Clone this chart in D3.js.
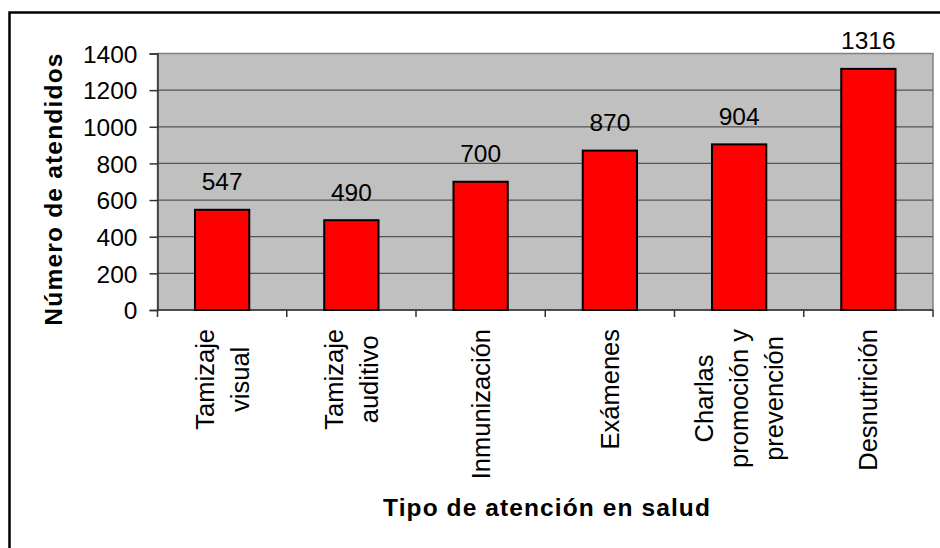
<!DOCTYPE html>
<html>
<head>
<meta charset="utf-8">
<script src="https://cdn.jsdelivr.net/npm/d3@7"></script>
<style>
  html, body { margin: 0; padding: 0; background: #fff; }
  svg { display: block; font-family: Arial, "Liberation Sans", sans-serif; }
</style>
</head>
<body>
<svg id="chart" width="940" height="548"></svg>
<script>
const categories = [
  ["Tamizaje", "visual"],
  ["Tamizaje", "auditivo"],
  ["Inmunización"],
  ["Exámenes"],
  ["Charlas", "promoción y", "prevención"],
  ["Desnutrición"]
];
const values = [547, 490, 700, 870, 904, 1316];
const yTicks = [0, 200, 400, 600, 800, 1000, 1200, 1400];
const yTitle = "Número de atendidos";
const xTitle = "Tipo de atención en salud";

const svg = d3.select("#chart");
const plot = { left: 157.5, right: 933, top: 53.5, bottom: 310 };

// outer frame (extends past right/bottom edges)
svg.append("rect")
  .attr("x", 9.5).attr("y", 12.5)
  .attr("width", 1000).attr("height", 600)
  .attr("fill", "#fff").attr("stroke", "#000").attr("stroke-width", 2.5);

const x = d3.scaleBand()
  .domain(d3.range(categories.length))
  .range([plot.left, plot.right])
  .paddingInner(0.58).paddingOuter(0.29);
const xb = d3.scaleBand()
  .domain(d3.range(categories.length))
  .range([plot.left, plot.right]);
const y = d3.scaleLinear().domain([0, 1400]).range([plot.bottom, plot.top]);

// plot background
svg.append("rect")
  .attr("x", plot.left).attr("y", plot.top)
  .attr("width", plot.right - plot.left).attr("height", plot.bottom - plot.top)
  .attr("fill", "#c0c0c0").attr("stroke", "#808080").attr("stroke-width", 1.5);

// gridlines
svg.append("g").selectAll("line")
  .data(yTicks.filter(d => d > 0 && d < 1400))
  .join("line")
  .attr("x1", plot.left).attr("x2", plot.right)
  .attr("y1", d => y(d)).attr("y2", d => y(d))
  .attr("stroke", "#555").attr("stroke-width", 1.3);

// y axis
const yAxis = d3.axisLeft(y).tickValues(yTicks).tickSize(8).tickPadding(12).tickFormat(d3.format("d"));
const gy = svg.append("g").attr("transform", `translate(${plot.left},0)`).call(yAxis);
gy.select(".domain").attr("stroke", "#333").attr("stroke-width", 1.5);
gy.selectAll(".tick line").attr("stroke", "#333").attr("stroke-width", 1.5);
gy.selectAll(".tick text")
  .attr("font-size", 24.5).attr("fill", "#000")
  .attr("font-family", "Arial, 'Liberation Sans', sans-serif")
  .attr("dy", "0.36em");

// x axis line + ticks at band boundaries
svg.append("line")
  .attr("x1", plot.left).attr("x2", plot.right)
  .attr("y1", plot.bottom).attr("y2", plot.bottom)
  .attr("stroke", "#333").attr("stroke-width", 1.5);
const bounds = d3.range(categories.length + 1).map(i => i < categories.length ? xb(i) : plot.right);
svg.append("g").selectAll("line").data(bounds).join("line")
  .attr("x1", d => d).attr("x2", d => d)
  .attr("y1", plot.bottom).attr("y2", plot.bottom + 7)
  .attr("stroke", "#333").attr("stroke-width", 1.5);

// bars
svg.append("g").selectAll("rect")
  .data(values).join("rect")
  .attr("x", (d, i) => x(i))
  .attr("width", x.bandwidth())
  .attr("y", d => y(d))
  .attr("height", d => y(0) - y(d))
  .attr("fill", "#ff0000").attr("stroke", "#000").attr("stroke-width", 2);

// value labels
svg.append("g").selectAll("text")
  .data(values).join("text")
  .attr("x", (d, i) => xb(i) + xb.bandwidth() / 2)
  .attr("y", d => y(d) - 19.5)
  .attr("text-anchor", "middle")
  .attr("font-size", 24.5).attr("fill", "#000")
  .text(d => d);

// category labels (rotated, multi-line, centered)
const lineH = 35;
categories.forEach((lines, i) => {
  const cx = xb(i) + xb.bandwidth() / 2;
  const g = svg.append("g");
  const texts = lines.map((ln, j) => g.append("text")
    .attr("font-size", 25.5).attr("fill", "#000")
    .attr("text-anchor", "middle")
    .attr("dominant-baseline", "central")
    .text(ln));
  const maxW = d3.max(texts, t => t.node().getComputedTextLength());
  const cy = 329 + maxW / 2;
  texts.forEach((t, j) => {
    const off = (j - (lines.length - 1) / 2) * lineH;
    t.attr("transform", `translate(${cx + off},${cy}) rotate(-90)`);
  });
});

// axis titles
svg.append("text")
  .attr("transform", `translate(62,189) rotate(-90)`)
  .attr("text-anchor", "middle")
  .attr("font-size", 24.5).attr("font-weight", "bold")
  .attr("letter-spacing", 1.2)
  .text(yTitle);

svg.append("text")
  .attr("x", 547).attr("y", 516)
  .attr("text-anchor", "middle")
  .attr("font-size", 24.5).attr("font-weight", "bold")
  .attr("letter-spacing", 1.1)
  .text(xTitle);
</script>
</body>
</html>
